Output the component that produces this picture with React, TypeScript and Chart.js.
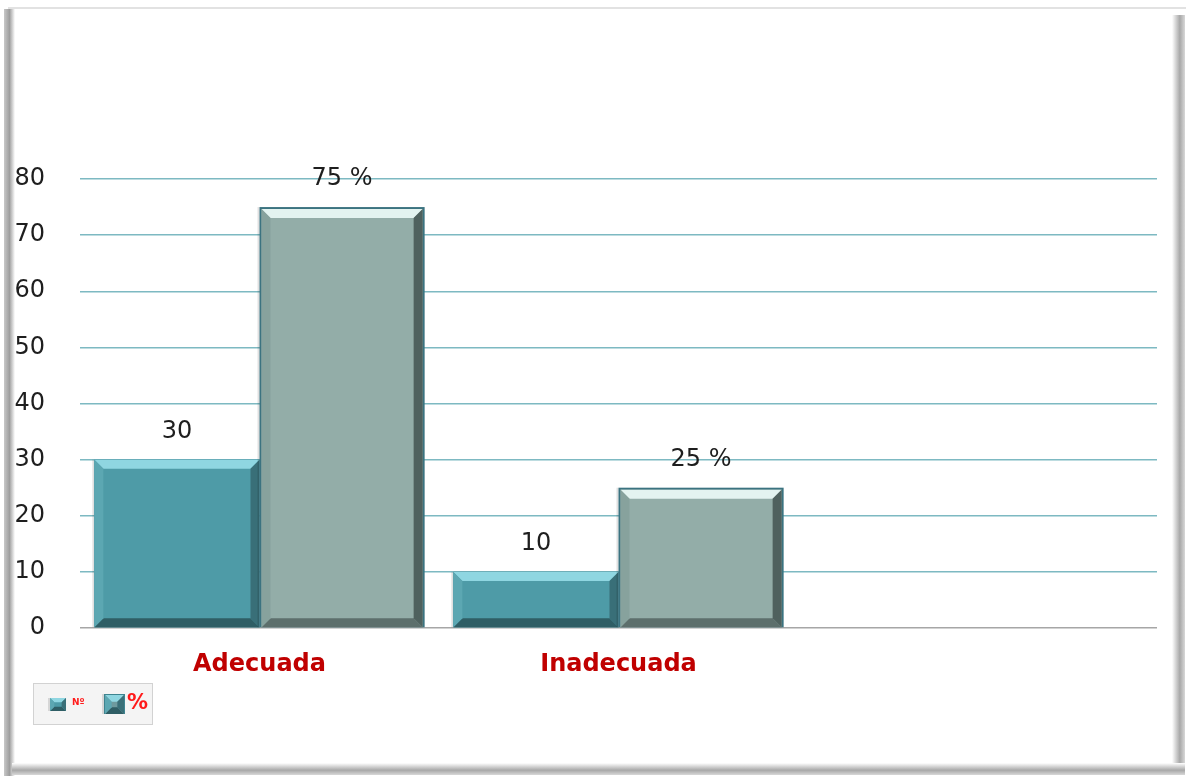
import React, { useEffect, useRef } from "react";
import { Chart, registerables } from "chart.js";

Chart.register(...registerables);

const categories = ["Adecuada", "Inadecuada", ""];
const countValues = [30, 10, null];
const percentValues = [75, 25, null];
const countLabels = ["30", "10", ""];
const percentLabels = ["75 %", "25 %", ""];
const seriesNames = ["Nº", "%"];
const yTicks = [0, 10, 20, 30, 40, 50, 60, 70, 80];

const FONT = "'DejaVu Sans', Verdana, sans-serif";

const palettes = [
  { main: "#4E9BA7", top: "#8FD6E1", bottom: "#2F5E65", right: "#396F78", left: "#5CA7B2", outline: "#3E8490" },
  { main: "#93ADA8", top: "#E3F3F0", bottom: "#5D6F6C", right: "#4F615E", left: "#87A29D", outline: "#3B7380" },
];

function drawBevelBar(ctx: CanvasRenderingContext2D, l: number, t: number, r: number, bo: number, p: any, outline: number) {
  const b = Math.min(9, (bo - t) / 3);
  ctx.save();
  ctx.fillStyle = "rgba(0,0,0,0.12)";
  ctx.fillRect(l - 2, t, 2, bo - t);
  ctx.fillStyle = p.outline;
  ctx.fillRect(l, t, r - l, bo - t);
  l += outline; t += outline; r -= outline;
  ctx.fillStyle = p.main;
  ctx.fillRect(l, t, r - l, bo - t);
  const poly = (pts: number[][], c: string) => {
    ctx.beginPath();
    ctx.moveTo(pts[0][0], pts[0][1]);
    for (let i = 1; i < pts.length; i++) ctx.lineTo(pts[i][0], pts[i][1]);
    ctx.closePath();
    ctx.fillStyle = c;
    ctx.fill();
  };
  poly([[l, t], [r, t], [r - b, t + b], [l + b, t + b]], p.top);
  poly([[l, bo], [r, bo], [r - b, bo - b], [l + b, bo - b]], p.bottom);
  poly([[r, t], [r, bo], [r - b, bo - b], [r - b, t + b]], p.right);
  poly([[l, t], [l, bo], [l + b, bo - b], [l + b, t + b]], p.left);
  ctx.restore();
}

const framePlugin = {
  id: "frame",
  beforeDraw(chart: any) {
    const ctx = chart.ctx as CanvasRenderingContext2D;
    const W = chart.width, H = chart.height;
    ctx.save();
    ctx.fillStyle = "#ffffff";
    ctx.fillRect(0, 0, W, H);
    ctx.fillStyle = "#E2E2E2";
    ctx.fillRect(8, 7, W - 8, 2);
    let g = ctx.createLinearGradient(4, 0, 15, 0);
    g.addColorStop(0, "#C8C8C8");
    g.addColorStop(0.5, "#9E9E9E");
    g.addColorStop(1, "#FFFFFF");
    ctx.fillStyle = g;
    ctx.fillRect(4, 9, 11, H - 9);
    g = ctx.createLinearGradient(1172, 0, 1185, 0);
    g.addColorStop(0, "#FFFFFF");
    g.addColorStop(0.6, "#A8A8A8");
    g.addColorStop(1, "#D8D8D8");
    ctx.fillStyle = g;
    ctx.fillRect(1172, 15, 13, 757);
    g = ctx.createLinearGradient(0, 763, 0, 775);
    g.addColorStop(0, "#FFFFFF");
    g.addColorStop(0.6, "#A8A8A8");
    g.addColorStop(1, "#D8D8D8");
    ctx.fillStyle = g;
    ctx.fillRect(12, 763, 1173, 12);
    ctx.restore();
  },
};

const bevelPlugin = {
  id: "bevel",
  afterDatasetsDraw(chart: any) {
    const ctx = chart.ctx as CanvasRenderingContext2D;
    chart.data.datasets.forEach((ds: any, di: number) => {
      const meta = chart.getDatasetMeta(di);
      meta.data.forEach((el: any, i: number) => {
        const v = ds.data[i];
        if (v == null) return;
        const { x, y, base, width } = el.getProps(["x", "y", "base", "width"], true);
        drawBevelBar(ctx, x - width / 2, y, x + width / 2, base, palettes[di], di === 1 ? 2 : 0);
        const label = di === 0 ? countLabels[i] : percentLabels[i];
        ctx.save();
        ctx.font = `24px ${FONT}`;
        ctx.fillStyle = "#1E1E1E";
        ctx.textAlign = "center";
        ctx.textBaseline = "middle";
        ctx.fillText(label, x, y - 28);
        ctx.restore();
      });
    });
  },
};

const legendPlugin = {
  id: "customLegend",
  afterDraw(chart: any) {
    const ctx = chart.ctx as CanvasRenderingContext2D;
    ctx.save();
    ctx.fillStyle = "#F4F4F4";
    ctx.fillRect(33, 683, 120, 42);
    ctx.strokeStyle = "#D2D2D2";
    ctx.lineWidth = 1;
    ctx.strokeRect(33.5, 683.5, 119, 41);
    drawBevelBar(ctx, 50, 698, 66, 711, palettes[0], 0);
    drawBevelBar(ctx, 104, 694, 125, 714, { ...palettes[0], main: "#6E9A9E" }, 1);
    ctx.fillStyle = "#FF1A1A";
    ctx.textBaseline = "middle";
    ctx.font = `bold 9px ${FONT}`;
    ctx.fillText(seriesNames[0], 72, 703);
    ctx.font = `bold 21px ${FONT}`;
    ctx.fillText(seriesNames[1], 127, 704);
    ctx.restore();
  },
};

export default function App() {
  const ref = useRef<HTMLCanvasElement>(null);
  useEffect(() => {
    document.body.style.margin = "0";
    const chart = new Chart(ref.current!, {
      type: "bar",
      data: {
        labels: categories,
        datasets: [
          { label: seriesNames[0], data: countValues as any, backgroundColor: "rgba(0,0,0,0)", borderWidth: 0, categoryPercentage: 0.92, barPercentage: 1 },
          { label: seriesNames[1], data: percentValues as any, backgroundColor: "rgba(0,0,0,0)", borderWidth: 0, categoryPercentage: 0.92, barPercentage: 1 },
        ],
      },
      options: {
        animation: false,
        responsive: false,
        devicePixelRatio: 1,
        layout: { padding: { left: 0, top: 179, right: 29, bottom: 0 } },
        plugins: { legend: { display: false }, tooltip: { enabled: false } },
        scales: {
          x: {
            grid: { display: false },
            border: { display: false },
            ticks: { color: "#C00000", font: { family: FONT, size: 24, weight: "bold" }, padding: 14, maxRotation: 0 },
            afterFit: (s: any) => { s.height = 148; },
          },
          y: {
            min: 0,
            max: 80,
            afterBuildTicks: (s: any) => { s.ticks = yTicks.map((v) => ({ value: v })); },
            ticks: { color: "#1E1E1E", font: { family: FONT, size: 24 }, padding: 35 },
            grid: {
              drawTicks: false,
              color: (c: any) => (c.tick && c.tick.value === 0 ? "#A6A6A6" : "#7DB9C2"),
              lineWidth: 1.5,
            },
            border: { display: false },
            afterFit: (s: any) => { s.width = 80; },
          },
        },
      },
      plugins: [framePlugin, bevelPlugin, legendPlugin],
    });
    return () => chart.destroy();
  }, []);
  return (
    <div style={{ position: "fixed", left: 0, top: 0, width: 1186, height: 776 }}>
      <canvas ref={ref} width={1186} height={776} style={{ width: 1186, height: 776 }} />
    </div>
  );
}
